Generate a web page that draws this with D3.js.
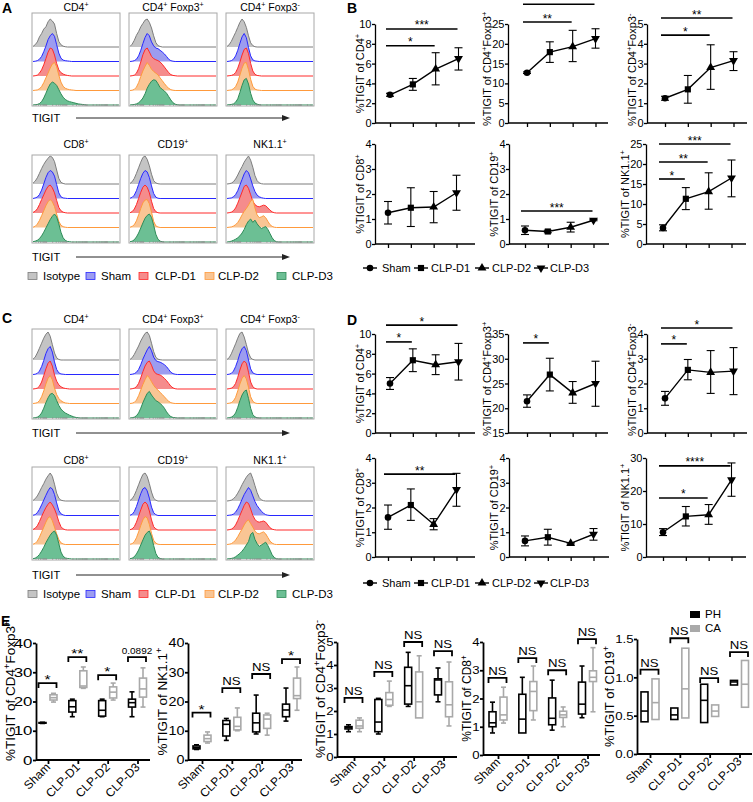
<!DOCTYPE html>
<html><head><meta charset="utf-8">
<script src="https://cdn.jsdelivr.net/npm/d3@7"></script>
<style>body{margin:0;background:#fff}svg{display:block}text{font-family:"Liberation Sans",Arial,sans-serif;fill:#000}</style>
</head><body><svg id="c" width="753" height="802"></svg>
<script>
// ---------------- DATA ----------------
const groups = ["Sham","CLP-D1","CLP-D2","CLP-D3"];
const histPops = ["Isotype","Sham","CLP-D1","CLP-D2","CLP-D3"];
const histTitles = ["CD4^+","CD4^+ Foxp3^+","CD4^+ Foxp3^-","CD8^+","CD19^+","NK1.1^+"];
const cellLabels = ["%TIGIT of CD4^+","%TIGIT of CD4^+Foxp3^+","%TIGIT of CD4^+Foxp3^-","%TIGIT of CD8^+","%TIGIT of CD19^+","%TIGIT of NK1.1^+"];

// histogram counts (% of mode) per bin, panels A and C
const histA = [
 [[2,8,18,36,48,64,72,90,100,93,82,48,20,8,3,1],
  [0,1,3,8,18,35,55,78,92,100,90,60,30,12,5,3,2,1],
  [0,1,3,10,22,40,62,85,100,96,75,45,22,12,7,4,2,1],
  [0,1,2,6,14,28,45,62,80,95,100,85,55,30,15,8,5,3,2,1],
  [0,1,2,5,12,25,42,60,75,82,78,70,55,40,28,20,15,12,10,8,6,4,3,2,1]],
 [[2,10,24,42,55,72,84,96,100,88,68,40,16,5,2],
  [0,1,3,8,20,40,64,86,100,92,70,56,48,46,40,34,27,18,8,3,1],
  [0,1,3,10,26,50,76,94,100,86,70,62,58,55,50,42,32,22,12,5,2,1],
  [0,1,4,12,28,50,70,86,100,90,76,68,62,56,45,35,25,15,8,3,1],
  [0,1,2,4,8,15,25,40,60,74,85,90,88,76,62,56,50,42,30,18,8,3,1]],
 [[2,8,20,36,52,70,88,100,90,70,40,15,5,1],
  [0,1,3,8,20,40,65,88,100,85,50,20,6,2,1],
  [0,1,2,5,12,28,50,75,95,100,80,45,18,6,2,1],
  [0,1,2,6,14,30,55,80,98,100,75,40,15,5,2,1],
  [0,1,2,4,10,22,45,70,90,95,75,42,18,7,3,1]],
 [[3,10,22,38,55,70,82,92,100,95,80,50,20,6,2],
  [0,2,5,14,30,52,75,92,100,95,80,50,20,6,2,1],
  [2,6,15,30,48,65,82,95,100,90,72,45,20,8,3,1],
  [1,4,12,25,42,60,78,92,100,92,75,48,22,8,3,1],
  [1,3,6,12,22,35,50,65,80,92,100,90,65,35,15,6,2,1]],
 [[2,8,20,38,58,78,95,100,88,65,35,12,4,1],
  [1,4,12,28,50,72,90,100,95,75,45,18,5,1],
  [1,5,14,30,52,74,92,100,92,72,42,16,5,1],
  [1,4,10,24,45,68,88,98,100,85,55,22,6,2],
  [1,3,8,18,32,50,68,85,95,100,88,60,28,10,3,1]],
 [[0,1,3,8,18,32,48,62,78,90,100,85,60,30,12,4,1],
  [0,1,2,6,14,28,48,68,88,100,92,70,45,25,12,6,3,1],
  [0,1,3,8,18,35,55,75,95,100,88,65,42,30,24,22,25,28,26,18,10,4,1],
  [0,1,2,5,10,18,30,45,58,68,80,95,100,70,45,35,38,42,35,22,10,4,1],
  [0,1,3,6,10,15,22,32,45,62,75,82,70,78,65,55,48,52,55,45,30,15,5,1]]
];
const histC = [
 [[3,10,25,42,60,78,92,100,85,55,25,8,2,0],
  [0,1,4,12,28,50,75,92,100,80,45,18,6,2,1],
  [0,1,3,10,25,48,72,92,100,82,50,28,15,8,4,2,1],
  [0,1,3,10,24,45,70,90,100,85,55,32,18,10,5,2,1],
  [0,1,3,8,18,35,55,72,85,88,80,62,45,32,24,18,14,10,7,4,2,1]],
 [[2,8,20,35,50,68,82,95,100,88,60,30,10,3,1],
  [0,1,3,8,18,35,55,72,88,100,85,62,50,46,44,40,35,28,18,8,3,1],
  [0,1,3,8,20,40,62,82,95,100,85,65,55,52,50,45,38,30,20,10,4,1],
  [0,1,4,12,28,48,68,85,100,92,78,65,55,48,40,32,24,15,8,3,1],
  [0,1,3,8,18,35,55,72,88,95,82,72,62,58,52,45,35,22,12,5,2,1]],
 [[2,8,22,40,58,78,95,100,82,55,25,8,2],
  [0,1,4,12,28,50,75,92,100,85,52,20,6,2],
  [0,1,3,8,20,42,68,90,100,92,60,25,8,2],
  [0,1,3,9,22,45,70,90,100,88,58,24,8,2],
  [0,1,3,8,18,38,62,82,95,100,70,35,12,4,1]],
 [[2,8,18,32,48,62,78,90,100,88,60,28,10,3,1],
  [1,3,10,22,38,55,72,88,100,95,75,45,18,6,2],
  [2,6,15,30,48,65,80,92,100,90,75,55,30,12,4,1],
  [1,4,12,26,44,62,80,95,100,85,62,38,18,6,2],
  [1,3,8,16,28,42,58,72,85,95,100,85,55,25,10,4,2,1]],
 [[2,8,20,38,58,78,95,100,88,62,32,10,3],
  [1,4,14,32,55,78,95,100,88,62,30,10,3],
  [1,4,12,28,50,72,92,100,92,68,36,12,4],
  [1,3,10,24,45,68,88,100,95,72,40,15,5,1],
  [1,3,8,18,32,50,68,85,95,100,80,48,20,6,2]],
 [[0,1,3,8,16,28,42,58,72,85,95,100,80,55,30,12,4,1],
  [0,1,2,5,12,24,40,58,75,88,100,90,70,50,35,25,15,8,3,1],
  [0,1,3,8,18,34,52,70,88,100,95,75,52,38,30,28,30,32,28,18,8,3,1],
  [0,1,3,8,16,28,42,55,70,82,88,75,62,48,40,38,42,45,38,25,12,5,1],
  [0,1,2,4,8,14,20,28,38,50,62,88,95,70,55,45,50,55,60,48,32,15,5,1]]
];

// Panel B (mean, lower, upper)
const bMean = [[2.85,3.9,5.45,6.5],[12.7,17.9,19.3,21.3],[1.25,1.7,2.8,3.15],[1.25,1.45,1.48,2.05],[0.55,0.5,0.67,0.95],[4.0,11.3,13.1,16.5]];
const bLo   = [[2.7,3.3,3.85,5.35],[12.5,15.3,15.5,18.9],[1.15,1.0,1.7,2.65],[0.8,0.7,0.85,1.35],[0.38,0.45,0.48,0.93],[3.3,8.6,8.7,11.8]];
const bHi   = [[3.0,4.5,7.1,7.6],[12.9,20.5,23.4,23.8],[1.35,2.4,3.95,3.6],[1.7,2.25,2.1,2.75],[0.72,0.55,0.87,0.98],[4.8,14.1,17.8,21.0]];
const bMin  = [0,0,0,0,0,0];
const bMax  = [10,25,5,4,4,25];
const bStep = [2,5,1,1,1,5];
const bSig  = [[[0,3,9.5,"***"],[0,2,7.8,"*"]],[[0,3,30,""],[0,2,25.5,"**"]],[[0,3,5.3,"**"],[0,2,4.44,"*"]],[],[[0,3,1.32,"***"]],[[0,3,25,"***"],[0,2,20.5,"**"],[0,1,16.25,"*"]]];

// Panel D
const dMean = [[5.0,7.35,6.9,7.2],[21.4,26.8,23.1,25.0],[1.4,2.55,2.45,2.5],[1.6,2.1,1.32,2.72],[0.65,0.8,0.55,0.92],[7.5,12.3,12.8,23.4]];
const dLo   = [[4.4,6.2,5.9,5.35],[20.2,23.5,21.0,20.4],[1.12,2.15,1.6,1.55],[1.12,1.48,1.1,2.05],[0.45,0.48,0.53,0.68],[6.5,9.4,9.9,18.4]];
const dHi   = [[5.6,8.5,7.9,9.05],[22.7,30.1,25.4,29.5],[1.68,2.97,3.33,3.45],[2.1,2.75,1.55,3.38],[0.85,1.12,0.58,1.15],[8.6,15.3,15.9,28.5]];
const dMin  = [0,15,0,0,0,0];
const dMax  = [10,35,4,4,4,30];
const dStep = [2,5,1,1,1,10];
const dSig  = [[[0,3,10.9,"*"],[0,1,9.2,"*"]],[[0,1,33.2,"*"]],[[0,3,4.24,"*"],[0,1,3.6,"*"]],[[0,3,3.35,"**"]],[],[[0,3,27.6,"****"],[0,2,17.9,"*"]]];

// Panel E box stats [min,q1,median,q3,max]
const eLabels = ["%TIGIT of CD4^+Foxp3^+","%TIGIT of NK1.1^+","%TIGIT of CD4^+Foxp3^-","%TIGIT of CD8^+","%TIGIT of CD19^+"];
const eMax = [40,40,5,4,1.5];
const eStep = [10,10,1,1,0.5];
const ePH = [
 [[12.5,12.6,12.7,12.8,12.9],[14.8,16.4,18.2,20.3,20.8],[14.8,15,17,20.3,20.8],[14.8,18.1,19.6,20.8,23.3]],
 [[3.6,3.8,4.2,4.8,5.2],[6.7,8.2,12.2,13.5,14.2],[8.9,9.6,12.7,16,22.2],[13.3,14.8,17.1,19.1,24.6]],
 [[1.1,1.22,1.28,1.32,1.4],[1.0,1.1,1.52,2.5,2.55],[2.2,2.3,3.1,3.9,4.55],[2.4,2.7,3.35,3.4,3.87]],
 [[0.78,1.0,1.14,1.53,1.87],[0.78,0.78,1.27,2.15,2.75],[0.88,1.07,1.3,2.02,2.65],[1.32,1.45,1.8,2.58,3.15]],
 [[0.42,0.42,0.56,0.81,0.81],[0.45,0.45,0.51,0.6,0.6],[0.41,0.41,0.7,0.91,0.91],[0.9,0.9,0.94,0.96,0.96]]
];
const eCA = [
 [[19.8,20.5,21.3,22.3,22.8],[24.5,24.8,25.3,30.5,31.8],[20.5,21.2,23.2,25,26.3],[18.1,21.5,24.3,28,31.5]],
 [[5.8,6.3,7.3,8.5,9.6],[10,10.3,11.5,14.6,17.8],[8.5,10.8,14,15.4,16],[17,21,22,28,31.8]],
 [[1.1,1.25,1.35,1.6,1.7],[2.2,2.25,2.5,2.8,3.3],[1.7,1.7,2.4,3.7,4.4],[1.35,1.75,2.27,3.27,4.13]],
 [[1.13,1.24,1.42,2.05,2.4],[1.24,1.57,2.25,2.6,3.15],[1.0,1.33,1.42,1.55,1.7],[1.53,2.6,2.75,2.98,3.8]],
 [[0.45,0.45,0.67,0.98,0.98],[0.47,0.47,0.85,1.38,1.38],[0.49,0.49,0.56,0.64,0.64],[0.61,0.61,0.91,1.22,1.22]]
];
const eSigY = [[26.3,35.2,29,35.2],[16.2,24.6,29.4,34.5],[2.57,3.7,5.0,4.6],[2.73,3.43,3.0,4.1],[1.1,1.51,0.99,1.33]];
const eSigT = [["*","**","*","0.0892"],["*","NS","NS","*"],["NS","NS","NS","NS"],["NS","NS","NS","NS"],["NS","NS","NS","NS"]];
const eLegend = ["PH","CA"];

// ---------------- STYLE ----------------
const popFill = ["#c4c4c4","#9c9cf0","#f58c8c","#f9c594","#6cbf94"];
const popLine = ["#7d7d7d","#2828ff","#ff2a2a","#ff9a3c","#2e8b57"];
const eColors = ["#000","#a9a9a9"];

const svg = d3.select("#c");

function rich(sel, str) {
  str.split(/(\^.)/).forEach(p => {
    if (!p) return;
    if (p[0] === "^") sel.append("tspan").attr("baseline-shift","super").attr("font-size","68%").text(p[1]);
    else sel.append("tspan").text(p);
  });
  return sel;
}
function letter(t, x, y) {
  svg.append("text").attr("x",x).attr("y",y).attr("font-size",14).attr("font-weight","bold").text(t);
}

// ---------------- HISTOGRAM PANELS ----------------
const histCols = [32,129,226];
const boxW = 88;
function histPanel(hist, rows, legendY) {
  rows.forEach((r, ri) => {
    for (let ci = 0; ci < 3; ci++) {
      const pi = ri*3 + ci, left = histCols[ci];
      const g = svg.append("g");
      rich(g.append("text").attr("x",left+boxW/2).attr("y",r.title).attr("text-anchor","middle").attr("font-size",10.5), histTitles[pi]);
      const hx = d3.scaleLinear().domain([0,40]).range([left+1, left+boxW-1]);
      const hy = d3.scaleLinear().domain([0,100]).range([0,28]);
      hist[pi].forEach((arr, k) => {
        const base = r.top + r.H - 1 - (4-k)*14.5;
        const pts = arr.map((v,j)=>[j,v]);
        pts.push([arr.length,0]); pts.push([40,0]);
        g.append("path").datum(pts)
          .attr("d", d3.area().x(d=>hx(d[0])).y0(base).y1(d=>base-hy(d[1])))
          .attr("fill", popFill[k]);
        g.append("path").datum(pts)
          .attr("d", d3.line().x(d=>hx(d[0])).y(d=>base-hy(d[1])))
          .attr("fill","none").attr("stroke",popLine[k]).attr("stroke-width",1);
      });
      g.append("rect").attr("x",left).attr("y",r.top).attr("width",boxW).attr("height",r.H)
        .attr("fill","none").attr("stroke","#a8a8a8").attr("stroke-width",1);
      const ls = d3.scaleLog().domain([30,3e5]).range([left+4,left+boxW-3]);
      g.selectAll(null).data(ls.ticks()).join("line")
        .attr("x1",d=>ls(d)).attr("x2",d=>ls(d)).attr("y1",r.top+r.H).attr("y2",r.top+r.H-2)
        .attr("stroke","#8a8a8a").attr("stroke-width",0.6);
    }
    svg.append("text").attr("x",32).attr("y",r.axisY+4).attr("font-size",11).text("TIGIT");
    svg.append("line").attr("x1",76).attr("x2",284).attr("y1",r.axisY).attr("y2",r.axisY).attr("stroke","#222").attr("stroke-width",1);
    svg.append("path").attr("d",`M282,${r.axisY-3}L290,${r.axisY}L282,${r.axisY+3}Z`).attr("fill","#222");
  });
  const lx = [28,86,139,205,277], tx = [43,101,155,218,292];
  histPops.forEach((p,i) => {
    svg.append("rect").attr("x",lx[i]).attr("y",legendY-3.5).attr("width",9).attr("height",7)
      .attr("fill",popFill[i]).attr("stroke",popLine[i]).attr("stroke-width",0.8);
    svg.append("text").attr("x",tx[i]).attr("y",legendY+4).attr("font-size",11.5).text(p);
  });
}
histPanel(histA, [{top:13,H:93,title:11,axisY:118},{top:155,H:88,title:148,axisY:257}], 276);
histPanel(histC, [{top:329,H:90,title:323,axisY:433},{top:467,H:93,title:464,axisY:575}], 594);

// place a rotated y label left of the tick labels it faces
function yLabel(g, ya, ax, y0, y1, label, fs, bottomPad, minX) {
  const t = rich(g.append("text").attr("text-anchor","middle").attr("font-size",fs), label);
  const len = t.node().getComputedTextLength();
  let cy = (y0+y1)/2;
  if (cy + len/2 > y0 + bottomPad) cy = y0 + bottomPad - len/2;
  if (cy - len/2 < 1) cy = 1 + len/2;
  let left = ax;
  ya.selectAll(".tick text").each(function() {
    const b = this.getBoundingClientRect();
    if (b.bottom > cy - len/2 + 2 && b.top < cy + len/2 - 2) left = Math.min(left, b.left);
  });
  t.attr("transform",`translate(${Math.max(minX || 0, left-1.5)},${cy}) rotate(-90)`);
}

// ---------------- LINE PANELS ----------------
const lineGeom = [{ax:375,off:15},{ax:508,off:19},{ax:647,off:18},{ax:375,off:13},{ax:509,off:16},{ax:646,off:17}];
const symTypes = [d3.symbolCircle, d3.symbolSquare, d3.symbolTriangle, d3.symbolTriangle];
const symSizes = [34,38,34,34];
const symRot = [0,0,0,180];

function lineChart(geo, row, mean, lo, hi, ymin, ymax, step, label, sigs) {
  const g = svg.append("g");
  const y = d3.scaleLinear().domain([ymin,ymax]).range([row.y0,row.y1]);
  const x = d3.scalePoint().domain(groups).range([geo.ax+geo.off, geo.ax+geo.off+68.5]);
  const ya = g.append("g").attr("transform",`translate(${geo.ax},0)`)
    .call(d3.axisLeft(y).tickValues(d3.range(ymin, ymax+step/2, step)).tickFormat(d3.format("d")).tickSize(3).tickSizeOuter(0).tickPadding(0.5));
  ya.attr("font-family",null).attr("font-size",11);
  ya.selectAll("path,line").attr("stroke","#000").attr("stroke-width",1.3);
  g.append("line").attr("x1",geo.ax).attr("x2",geo.ax+100).attr("y1",row.y0).attr("y2",row.y0).attr("stroke","#000").attr("stroke-width",1.3);
  const xa = g.append("g").attr("transform",`translate(0,${row.y0})`).call(d3.axisBottom(x).tickSize(4).tickFormat(""));
  xa.select(".domain").remove();
  xa.selectAll("line").attr("stroke","#000").attr("stroke-width",1.3);
  groups.forEach((gr,i) => {
    const cx = x(gr);
    g.append("line").attr("x1",cx).attr("x2",cx).attr("y1",y(lo[i])).attr("y2",y(hi[i])).attr("stroke","#000").attr("stroke-width",1.1);
    [lo[i],hi[i]].forEach(v => g.append("line").attr("x1",cx-4).attr("x2",cx+4).attr("y1",y(v)).attr("y2",y(v)).attr("stroke","#000").attr("stroke-width",1.1));
  });
  g.append("path").datum(mean).attr("d", d3.line().x((d,i)=>x(groups[i])).y(d=>y(d)))
    .attr("fill","none").attr("stroke","#000").attr("stroke-width",1.4);
  mean.forEach((v,i) => {
    g.append("path").attr("d", d3.symbol().type(symTypes[i]).size(symSizes[i])())
      .attr("transform",`translate(${x(groups[i])},${y(v)}) rotate(${symRot[i]})`).attr("fill","#000");
  });
  sigs.forEach(s => {
    const yy = y(s[2]), x1 = x(groups[s[0]])-4, x2 = x(groups[s[1]])-1;
    g.append("line").attr("x1",x1).attr("x2",x2).attr("y1",yy).attr("y2",yy).attr("stroke","#000").attr("stroke-width",1.6);
    if (s[3]) g.append("text").attr("x",(x1+x2)/2).attr("y",yy+0.5).attr("text-anchor","middle").attr("font-size",12).text(s[3]);
  });
  yLabel(g, ya, geo.ax, row.y0, row.y1, label, 11, 3);
}
function lineLegend(yL) {
  const sx = [370,421,482,541], tx = [382,431,492,550];
  groups.forEach((gname,i) => {
    svg.append("line").attr("x1",sx[i]-7).attr("x2",sx[i]+7).attr("y1",yL).attr("y2",yL).attr("stroke","#000").attr("stroke-width",1.4);
    svg.append("path").attr("d", d3.symbol().type(symTypes[i]).size(symSizes[i])())
      .attr("transform",`translate(${sx[i]},${yL}) rotate(${symRot[i]})`).attr("fill","#000");
    svg.append("text").attr("x",tx[i]).attr("y",yL+4).attr("font-size",11).text(gname);
  });
}
const bRows = [{y0:123,y1:24},{y0:244,y1:144}];
const dRows = [{y0:433,y1:334},{y0:557,y1:458}];
for (let i = 0; i < 6; i++) {
  lineChart(lineGeom[i], bRows[Math.floor(i/3)], bMean[i], bLo[i], bHi[i], bMin[i], bMax[i], bStep[i], cellLabels[i], bSig[i]);
  lineChart(lineGeom[i], dRows[Math.floor(i/3)], dMean[i], dLo[i], dHi[i], dMin[i], dMax[i], dStep[i], cellLabels[i], dSig[i]);
}
lineLegend(268);
lineLegend(583);

// ---------------- BOX PANELS (E) ----------------
const eGeom = [
  {ax:36, off:12, y0:760, y1:643, end:150, lf:13.5,tf:13, sx:1.3, minX:15},
  {ax:188,off:14, y0:760, y1:643, end:302, lf:13.5,tf:12, sx:1.2},
  {ax:337,off:17, y0:757, y1:642, end:457, lf:13.5,tf:11.5,sx:1.15},
  {ax:483,off:15, y0:755, y1:642, end:600, lf:12, tf:11.5,sx:1.15},
  {ax:637,off:13, y0:754, y1:639, end:752, lf:13, tf:11.5,sx:1.15}
];
function boxChart(k) {
  const geo = eGeom[k], g = svg.append("g");
  const y = d3.scaleLinear().domain([0,eMax[k]]).range([geo.y0,geo.y1]);
  const x = d3.scalePoint().domain(groups).range([geo.ax+geo.off, geo.ax+geo.off+89.5]);
  const fmt = eStep[k] < 1 ? d3.format(".1f") : d3.format("d");
  const ya = g.append("g").attr("transform",`translate(${geo.ax},0)`)
    .call(d3.axisLeft(y).tickValues(d3.range(0, eMax[k]+eStep[k]/2, eStep[k])).tickFormat(fmt).tickSize(3).tickSizeOuter(0).tickPadding(0));
  ya.attr("font-family",null).attr("font-size",geo.tf);
  ya.selectAll("path,line").attr("stroke","#000").attr("stroke-width",1.8);
  ya.selectAll("text").attr("x",-3.5/geo.sx).attr("transform",`scale(${geo.sx},1)`);
  g.append("line").attr("x1",geo.ax).attr("x2",geo.end).attr("y1",geo.y0).attr("y2",geo.y0).attr("stroke","#000").attr("stroke-width",1.8);
  const xa = g.append("g").attr("transform",`translate(0,${geo.y0})`).call(d3.axisBottom(x).tickSize(4).tickFormat(""));
  xa.select(".domain").remove();
  xa.selectAll("line").attr("stroke","#000").attr("stroke-width",1.8);
  groups.forEach((gname,i) => {
    g.append("text").attr("transform",`translate(${x(gname)+3},${geo.y0+8}) rotate(-45)`)
      .attr("text-anchor","end").attr("font-size",12).text(gname);
  });
  [ePH[k], eCA[k]].forEach((stats, si) => {
    const dx = si === 0 ? -5.5 : 5.5, col = eColors[si], w = 7;
    stats.forEach((s,i) => {
      const cx = x(groups[i]) + dx;
      g.append("line").attr("x1",cx).attr("x2",cx).attr("y1",y(s[0])).attr("y2",y(s[4])).attr("stroke",col).attr("stroke-width",1.6);
      if (s[0] < s[1]) g.append("line").attr("x1",cx-2.5).attr("x2",cx+2.5).attr("y1",y(s[0])).attr("y2",y(s[0])).attr("stroke",col).attr("stroke-width",1.6);
      if (s[4] > s[3]) g.append("line").attr("x1",cx-2.5).attr("x2",cx+2.5).attr("y1",y(s[4])).attr("y2",y(s[4])).attr("stroke",col).attr("stroke-width",1.6);
      g.append("rect").attr("x",cx-w/2).attr("y",y(s[3])).attr("width",w).attr("height",Math.max(0.5,y(s[1])-y(s[3])))
        .attr("fill","#fff").attr("stroke",col).attr("stroke-width",1.6);
      g.append("line").attr("x1",cx-w/2).attr("x2",cx+w/2).attr("y1",y(s[2])).attr("y2",y(s[2])).attr("stroke",col).attr("stroke-width",1.6);
    });
  });
  groups.forEach((gname,i) => {
    const x1 = x(gname)-9.5, x2 = x(gname)+8.5, yy = y(eSigY[k][i]);
    g.append("path").attr("d",`M${x1},${yy+5}V${yy}H${x2}V${yy+5}`).attr("fill","none").attr("stroke","#000").attr("stroke-width",1.8);
    const t = eSigT[k][i];
    const isStar = t.indexOf("*") >= 0;
    const fs = isStar ? 13 : (t === "NS" ? 11 : 9.5);
    g.append("text").attr("text-anchor","middle").attr("font-size",fs)
      .attr("transform",`translate(${(x1+x2)/2},${isStar ? yy+1 : yy-3}) scale(${t==="NS"||isStar?1.2:1.05},1)`).text(t);
  });
  yLabel(g, ya, geo.ax, geo.y0, geo.y1, eLabels[k], geo.lf, 1, geo.minX);
}
for (let k = 0; k < 5; k++) boxChart(k);
eLegend.forEach((s,i) => {
  svg.append("rect").attr("x",690).attr("y",611+i*14).attr("width",10).attr("height",7).attr("fill",eColors[i]);
  svg.append("text").attr("x",705).attr("y",618+i*14).attr("font-size",11.5).text(s);
});

letter("A",2,13); letter("B",347,13); letter("C",2,323); letter("D",347,325); letter("E",1,626);
</script></body></html>
